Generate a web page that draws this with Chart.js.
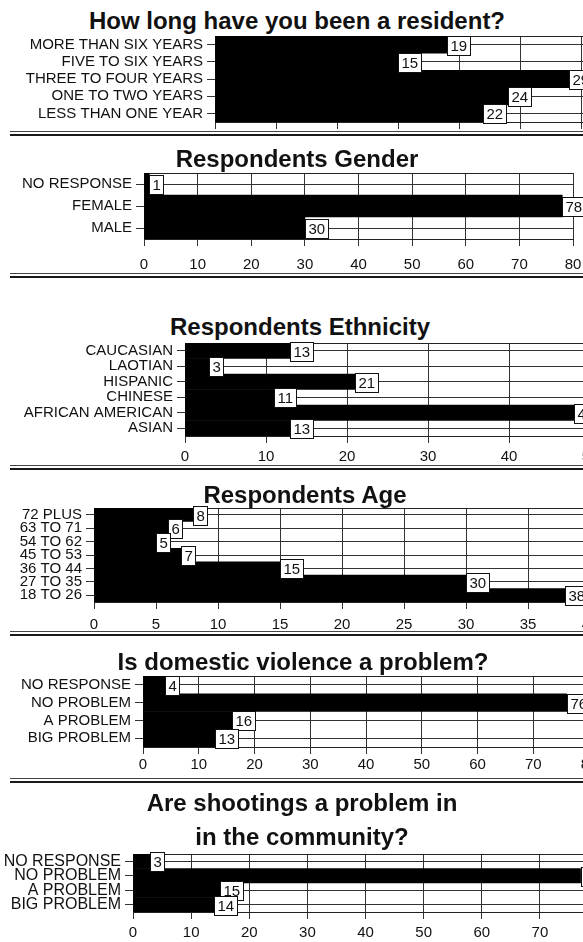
<!DOCTYPE html>
<html>
<head>
<meta charset="utf-8">
<script src="https://cdn.jsdelivr.net/npm/chart.js@4.4.0/dist/chart.umd.min.js"></script>
<style>
  html, body { margin: 0; padding: 0; background: #fff; overflow: hidden; }
  #page { position: relative; width: 583px; height: 942px; overflow: hidden; background: #fff; }
  .ttl { position: absolute; width: 600px; text-align: center; white-space: nowrap;
         font: bold 24px "Liberation Sans", Arial, sans-serif; line-height: 30px; color: #111; }
  .sep { position: absolute; left: 10px; width: 600px; height: 2px;
         border-top: 1px solid #444; border-bottom: 2px solid #1a1a1a; }
  canvas { position: absolute; left: 0; }
</style>
</head>
<body>
<div id="page">
  <div class="ttl" style="left:-3px; top:6px;">How long have you been a resident?</div>
  <canvas id="resident"></canvas>
  <div class="sep" style="top:131px;"></div>

  <div class="ttl" style="left:-3px; top:144px;">Respondents Gender</div>
  <canvas id="gender"></canvas>
  <div class="sep" style="top:273px;"></div>

  <div class="ttl" style="left:0px; top:312px;">Respondents Ethnicity</div>
  <canvas id="ethnicity"></canvas>
  <div class="sep" style="top:465px;"></div>

  <div class="ttl" style="left:5px; top:480px;">Respondents Age</div>
  <canvas id="age"></canvas>
  <div class="sep" style="top:631px;"></div>

  <div class="ttl" style="left:3px; top:647px;">Is domestic violence a problem?</div>
  <canvas id="domestic"></canvas>
  <div class="sep" style="top:778px;"></div>

  <div class="ttl" style="left:2px; top:786px; line-height:34px;">Are shootings a problem in<br>in the community?</div>
  <canvas id="shootings"></canvas>
</div>

<script>
/* --- Dados (109 respostas em cada pergunta) --- */
const residentLabels = ['MORE THAN SIX YEARS', 'FIVE TO SIX YEARS', 'THREE TO FOUR YEARS', 'ONE TO TWO YEARS', 'LESS THAN ONE YEAR'];
const residentValues = [19, 15, 29, 24, 22];

const genderLabels = ['NO RESPONSE', 'FEMALE', 'MALE'];
const genderValues = [1, 78, 30];

const ethnicityLabels = ['CAUCASIAN', 'LAOTIAN', 'HISPANIC', 'CHINESE', 'AFRICAN AMERICAN', 'ASIAN'];
const ethnicityValues = [13, 3, 21, 11, 48, 13];

const ageLabels = ['72 PLUS', '63 TO 71', '54 TO 62', '45 TO 53', '36 TO 44', '27 TO 35', '18 TO 26'];
const ageValues = [8, 6, 5, 7, 15, 30, 38];

const problemLabels = ['NO RESPONSE', 'NO PROBLEM', 'A PROBLEM', 'BIG PROBLEM'];
const domesticValues = [4, 76, 16, 13];
const shootingValues = [3, 77, 15, 14];

const FONT = '"Liberation Sans", Arial, sans-serif';
const INK = '#111';

/* --- Caixinhas com o valor no fim de cada barra + linha superior do quadro --- */
const boxLabels = {
  id: 'boxLabels',
  beforeDatasetsDraw(chart) {
    const { ctx, chartArea: a } = chart;
    ctx.save();
    ctx.strokeStyle = '#222';
    ctx.lineWidth = 1;
    ctx.beginPath();
    ctx.moveTo(a.left, Math.round(a.top) + 0.5);
    ctx.lineTo(a.right, Math.round(a.top) + 0.5);
    ctx.stroke();
    ctx.restore();
  },
  afterDatasetsDraw(chart) {
    const { ctx } = chart;
    const vals = chart.data.datasets[0].data;
    ctx.save();
    ctx.font = '15px ' + FONT;
    ctx.textBaseline = 'middle';
    chart.getDatasetMeta(0).data.forEach((bar, i) => {
      const txt = String(vals[i]);
      const w = Math.round(ctx.measureText(txt).width) + 6;
      const x = Math.round(bar.x) + 0.5;
      const y = Math.round(bar.y - 9) + 0.5;
      ctx.fillStyle = '#fff';
      ctx.fillRect(x, y, w, 19);
      ctx.strokeStyle = INK;
      ctx.lineWidth = 1;
      ctx.strokeRect(x, y, w, 19);
      ctx.fillStyle = INK;
      ctx.fillText(txt, x + 3, y + 10);
    });
    ctx.restore();
  }
};

/* --- Monta um gráfico de barras horizontais --- */
function makeChart(id, o) {
  const cv = document.getElementById(id);
  const padTop = 16;
  cv.width = o.right + 20;
  cv.height = padTop + (o.bottom - o.top) + o.axisH;
  cv.style.top = (o.top - padTop) + 'px';

  return new Chart(cv, {
    type: 'bar',
    data: {
      labels: o.labels,
      datasets: [{
        data: o.values,
        backgroundColor: '#000',
        borderWidth: 0,
        barPercentage: 1,
        categoryPercentage: 1,
      }],
    },
    options: {
      indexAxis: 'y',
      responsive: false,
      animation: false,
      devicePixelRatio: 1,
      layout: { padding: { top: padTop, right: 20, left: 0, bottom: 0 } },
      plugins: { legend: { display: false }, tooltip: { enabled: false } },
      scales: {
        x: {
          min: 0,
          max: o.max,
          ticks: {
            stepSize: o.step,
            includeBounds: false,
            display: o.tickLabels !== false,
            padding: o.tickPad || 5,
            color: INK,
            font: { size: 15, family: FONT },
          },
          grid: { color: '#333', tickLength: 7 },
          border: { color: '#222' },
          afterFit: s => { s.height = o.axisH; },
        },
        y: {
          ticks: {
            autoSkip: false,
            padding: 4,
            color: INK,
            font: { size: o.labelSize || 15, family: FONT },
          },
          grid: { offset: false, color: '#333', tickLength: 8 },
          border: { color: '#222' },
          afterFit: s => { s.width = o.left; },
        },
      },
    },
    plugins: [boxLabels],
  });
}

makeChart('resident', {
  labels: residentLabels, values: residentValues,
  top: 36, bottom: 122, left: 215, right: 642, max: 35, step: 5,
  axisH: 16, tickLabels: false,
});
makeChart('gender', {
  labels: genderLabels, values: genderValues,
  top: 173, bottom: 239, left: 144, right: 573, max: 80, step: 10,
  axisH: 40, tickPad: 10,
});
makeChart('ethnicity', {
  labels: ethnicityLabels, values: ethnicityValues,
  top: 343, bottom: 436, left: 185, right: 590, max: 50, step: 10,
  axisH: 36, tickPad: 5,
});
makeChart('age', {
  labels: ageLabels, values: ageValues,
  top: 508, bottom: 602, left: 94, right: 590, max: 40, step: 5,
  axisH: 36, tickPad: 7,
});
makeChart('domestic', {
  labels: problemLabels, values: domesticValues,
  top: 676, bottom: 747, left: 143, right: 589, max: 80, step: 10,
  axisH: 30, tickPad: 2,
});
makeChart('shootings', {
  labels: problemLabels, values: shootingValues,
  top: 854, bottom: 912, left: 133, right: 598, max: 80, step: 10,
  axisH: 30, tickPad: 5, labelSize: 16,
});
</script>
</body>
</html>
